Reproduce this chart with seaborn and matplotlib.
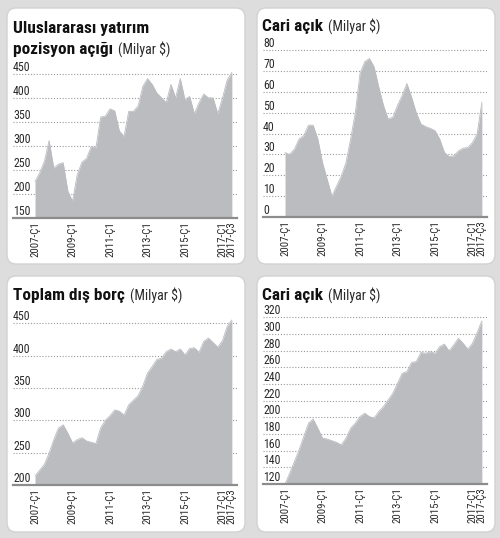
import numpy as np
import seaborn as sns
import matplotlib.pyplot as plt
from matplotlib.patches import FancyBboxPatch
import matplotlib.transforms as mtransforms

# quarterly values, 2007-Ç1 .. 2017-Ç3 (43 quarters)
yatirim_pozisyon = [226, 244, 268, 311, 254, 262, 265, 206, 185, 240, 266, 274, 299, 296, 360,
                    362, 377, 373, 331, 320, 372, 372, 383, 424, 440, 428, 410, 400, 390, 428,
                    400, 440, 396, 403, 367, 390, 408, 400, 400, 367, 400, 437, 453]
cari_acik = [30.9, 30, 32.5, 37.4, 39, 44, 44, 37.4, 26, 18, 10, 14.8, 19.6, 26, 37.4, 50,
             68.8, 74.4, 76, 72, 62.3, 53.5, 47, 47.8, 53.5, 58.3, 64, 57.5, 50, 44.6, 43.3,
             42.5, 41.4, 37.4, 31, 29, 29.3, 31.7, 33, 33.3, 35.7, 39.8, 55]
dis_borc = [214, 223, 232, 249, 270, 288, 293, 280, 265, 270, 273, 268, 266, 264, 288, 300,
            307, 316, 314, 308, 324, 331, 338, 353, 373, 383, 394, 396, 406, 410, 406, 410,
            401, 411, 412, 405, 422, 427, 420, 413, 423, 445, 455]
cari_acik_2 = [120, 133, 147, 161, 177, 193, 198, 187, 175, 174, 172, 170, 167, 175, 187, 193,
               201, 205, 201, 199, 207, 213, 221, 229, 241, 253, 255, 266, 267, 278, 277, 279,
               277, 285, 288, 280, 287, 295, 289, 282, 289, 302, 316]

tick_pos = [0, 8, 16, 24, 32, 40, 42]
tick_labels = ['2007-Ç1', '2009-Ç1', '2011-Ç1', '2013-Ç1', '2015-Ç1', '2017-Ç1', '2017-Ç3']

titles = [['Uluslararası yatırım', 'pozisyon açığı'], ['Cari açık'], ['Toplam dış borç'], ['Cari açık']]
unit = '(Milyar \\$)'

sns.set_theme(style='white')
plt.rcParams['font.family'] = ['Roboto Condensed', 'Liberation Sans Narrow', 'DejaVu Sans']
plt.rcParams['font.stretch'] = 'condensed'

W, H = 500, 538
fig = plt.figure(figsize=(5, 5.38), dpi=100)
fig.patch.set_facecolor('#dddddd')

FILL = '#bbbcc0'
TXT = '#2a2a2a'


def px_rect(x0, y0, x1, y1):
    # pixel box (top-left origin) -> figure fraction [l, b, w, h]
    return [x0 / W, 1 - y1 / H, (x1 - x0) / W, (y1 - y0) / H]


# white rounded panels, kept behind the axes
for (x0, y0, x1, y1) in [(7, 8, 245, 264), (257, 8, 495, 264), (7, 276, 245, 532), (257, 276, 495, 532)]:
    l, b, w, h = px_rect(x0, y0, x1, y1)
    fig.patches.append(FancyBboxPatch((l, b), w, h, boxstyle='round,pad=0,rounding_size=0.018',
                                      transform=fig.transFigure, facecolor='white',
                                      edgecolor='#d2d2d2', lw=1.0, zorder=-5))

panels = [
    dict(vals=yatirim_pozisyon, box=(13, 70, 237, 218), ylim=(150, 458), yt=range(150, 451, 50),
         title_xy=(13, 33)),
    dict(vals=cari_acik, box=(263, 47, 487, 217), ylim=(0, 81.5), yt=range(0, 81, 10),
         title_xy=(262, 31)),
    dict(vals=dis_borc, box=(13, 318, 237, 485), ylim=(200, 458), yt=range(200, 451, 50),
         title_xy=(13, 300)),
    dict(vals=cari_acik_2, box=(263, 315, 487, 484), ylim=(120, 323), yt=range(120, 321, 20),
         title_xy=(262, 300)),
]

x = np.arange(len(yatirim_pozisyon))
renderer = fig.canvas.get_renderer()

for p, ttl in zip(panels, titles):
    ax = fig.add_axes(px_rect(*p['box']))
    ax.set_facecolor('none')
    vals = p['vals']
    lo, hi = p['ylim']
    ax.fill_between(x, vals, lo, color=FILL, lw=0, zorder=2)
    sns.lineplot(x=x, y=vals, ax=ax, color=FILL, lw=0.6, zorder=2)
    ax.set_xlim(-4.7, 43.1)
    ax.set_ylim(lo, hi)

    ax.set_yticks(list(p['yt']))
    ax.set_yticklabels([])
    ax.tick_params(axis='y', length=0)
    ax.grid(axis='y', color='#9a9a9a', lw=0.8, linestyle=(0, (1, 1.6)), zorder=1)
    trans = mtransforms.blended_transform_factory(ax.transAxes, ax.transData)
    for v in p['yt']:
        ax.text(0.0, v, str(v), transform=trans, ha='left', va='bottom', fontsize=8.6,
                color=TXT, zorder=3)
    ax.set_xticks(tick_pos)
    ax.set_xticklabels(tick_labels, rotation=90, fontsize=7.8, color=TXT, va='top', ha='center')
    ax.tick_params(axis='x', length=0, pad=2)

    for s in ['top', 'right', 'left']:
        ax.spines[s].set_visible(False)
    ax.spines['bottom'].set_color('#8c8c8c')
    ax.spines['bottom'].set_linewidth(1.6)
    ax.spines['bottom'].set_zorder(4)
    ax.set_xlabel('')
    ax.set_ylabel('')

    # title lines; the unit follows the last line on the same baseline
    tx, ty = p['title_xy']
    for i, line in enumerate(ttl):
        yy = 1 - (ty + i * 21) / H
        last = fig.text(tx / W, yy, line, fontsize=12.4, fontweight='black',
                        color='#111111', ha='left', va='baseline')
    bb = last.get_window_extent(renderer)
    fig.text(bb.x1 / W + 5 / W, yy, unit, fontsize=10, color=TXT, ha='left', va='baseline')

fig.savefig('out.png', dpi=100, facecolor=fig.get_facecolor())
